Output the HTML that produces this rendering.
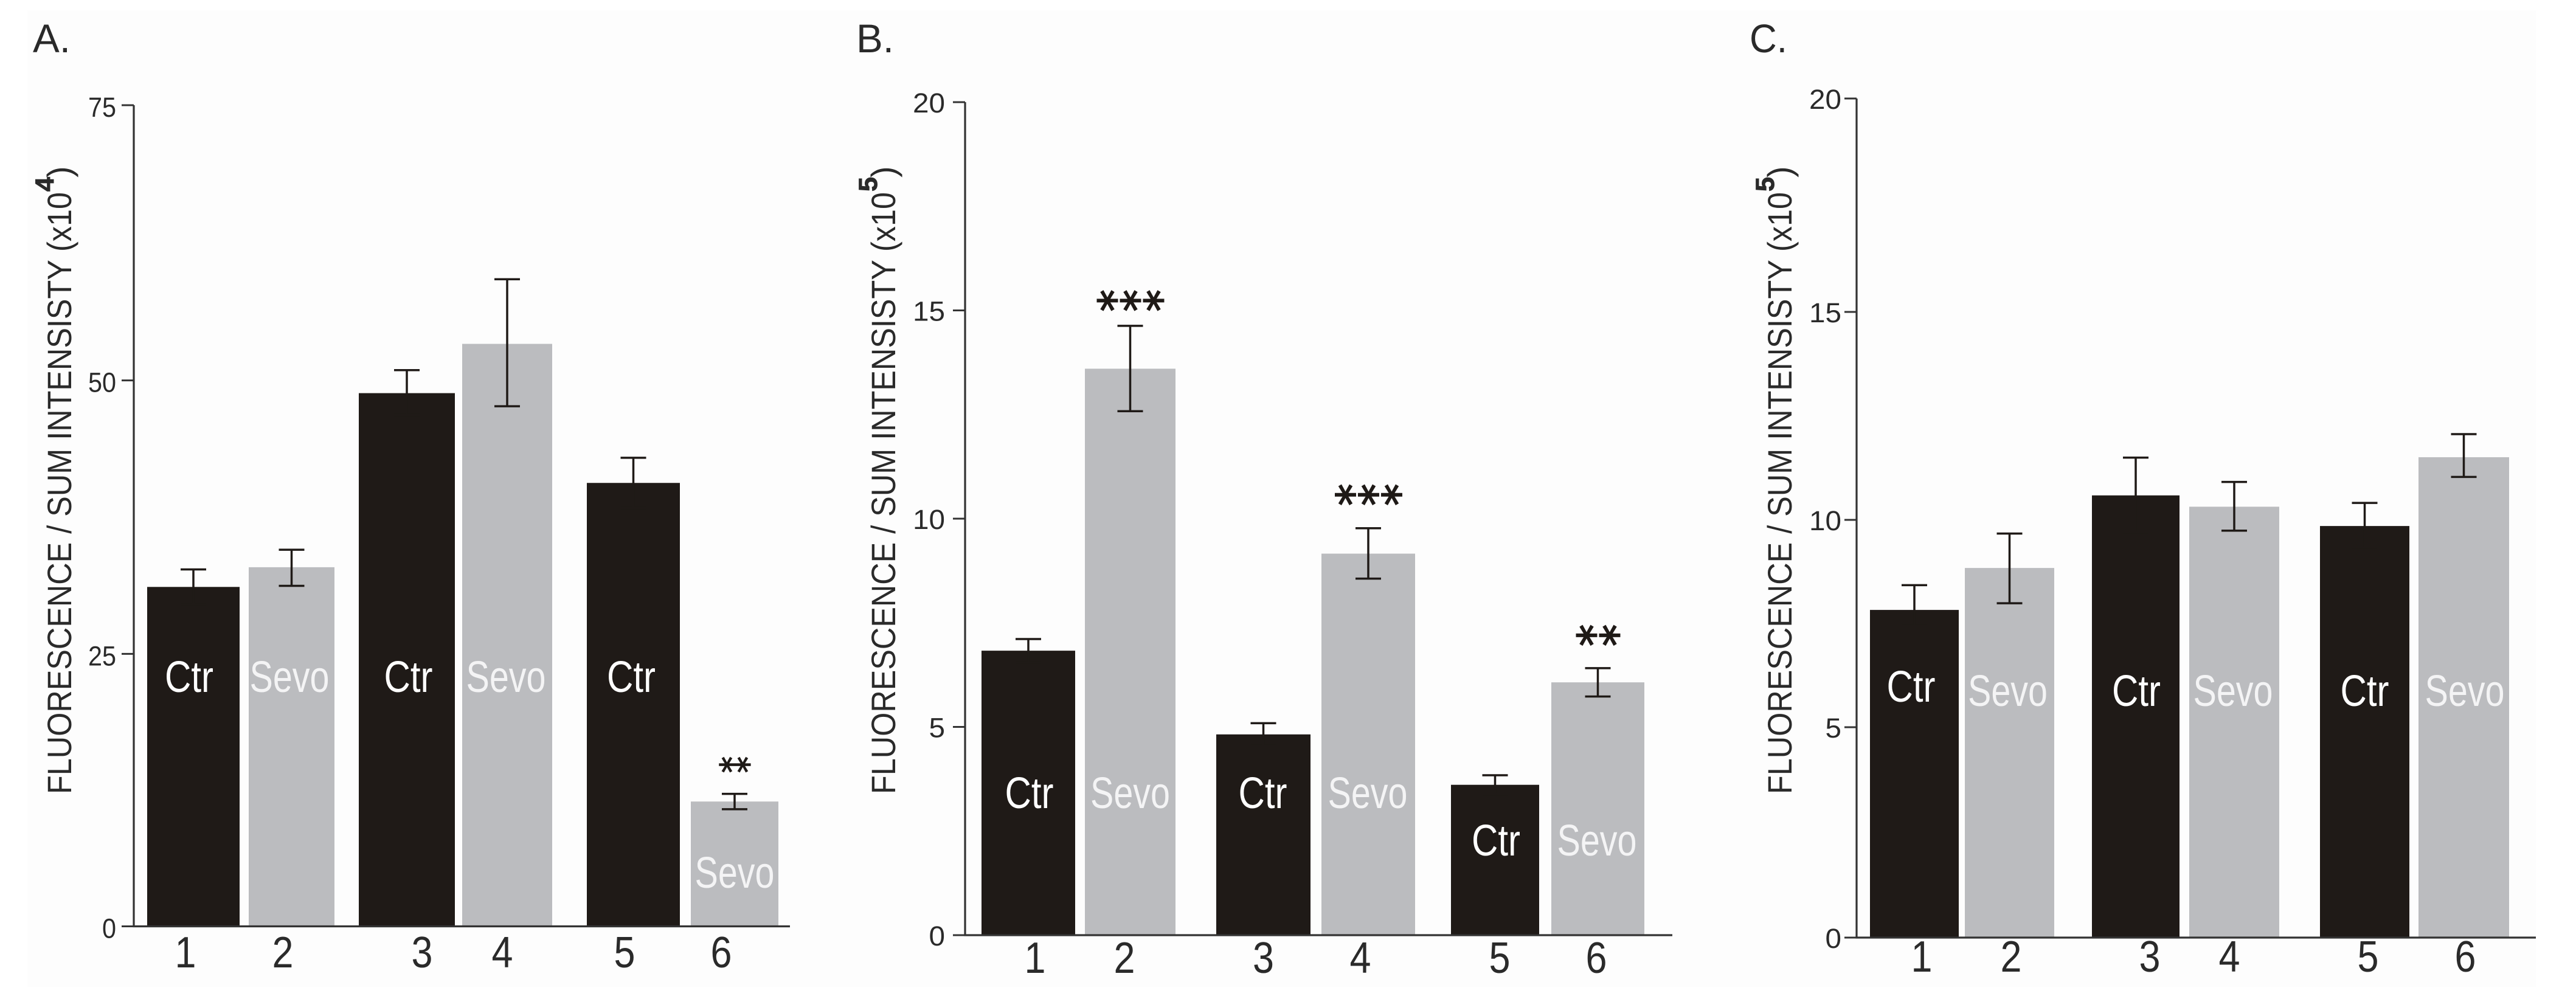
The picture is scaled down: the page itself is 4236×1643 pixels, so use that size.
<!DOCTYPE html>
<html lang="en">
<head>
<meta charset="utf-8">
<title>Fluorescence / sum intensity bar charts</title>
<style>
html,body{margin:0;padding:0;background:#fff;width:4236px;height:1643px;overflow:hidden}
svg{display:block}
text{font-family:"Liberation Sans",sans-serif;fill:#2a2a2a}
</style>
</head>
<body>
<svg id="figure" xmlns="http://www.w3.org/2000/svg" width="4236" height="1643" viewBox="0 0 4236 1643">
<rect x="45" y="17" width="4125" height="1606" fill="#fdfdfd"/>
</svg>
<script>
const categories = ['1','2','3','4','5','6'];
const groups = ['Ctr','Sevo','Ctr','Sevo','Ctr','Sevo'];

const valuesA  = [31.0, 32.8, 48.7, 53.2, 40.5, 11.4];
const errHighA = [32.6, 34.4, 50.8, 59.1, 42.8, 12.1];
const errLowA  = [29.4, 31.1, 46.7, 47.5, 38.2, 10.7];
const starsA   = ['', '', '', '', '', '**'];
const ticksA   = [0, 25, 50, 75];

const valuesB  = [6.83, 13.6, 4.82, 9.16, 3.61, 6.07];
const errHighB = [7.11, 14.63, 5.09, 9.77, 3.84, 6.41];
const errLowB  = [6.55, 12.58, 4.55, 8.56, 3.38, 5.73];
const starsB   = ['', '***', '', '***', '', '**'];
const ticksB   = [0, 5, 10, 15, 20];

const valuesC  = [7.81, 8.81, 10.54, 10.27, 9.81, 11.45];
const errHighC = [8.40, 9.63, 11.44, 10.86, 10.36, 12.00];
const errLowC  = [7.43, 7.97, 9.66, 9.70, 9.29, 10.98];
const starsC   = ['', '', '', '', '', ''];
const ticksC   = [0, 5, 10, 15, 20];

const panels = [
  {id:'a', letter:'A.', letterX:54, values:valuesA, hi:errHighA, lo:errLowA, stars:starsA, ticks:ticksA, yMax:75,
   axisX:220, axisEnd:1299, y0:1523.5, yTop:173, start:242, widths:[152,141,158,148,153,144], gaps:[15,40,12,57,18],
   tickRight:191, tickDigit:23, tickDy:19, tickShift:[0,2,2.5,0], titleX:117, supX:88, power:'4', xBase:1591,
   starSize:54, starPitch:26, starLift:[0,0,0,0,0,48], xNudge:[-13,-14.5,25,-8,-14.5,-22],
   labelNudge:[-7,-3.5,2.5,-2,-3.5,0], labelBase:[1138,1138,1138,1138,1138,1460]},
  {id:'b', letter:'B.', letterX:1408, values:valuesB, hi:errHighB, lo:errLowB, stars:starsB, ticks:ticksB, yMax:20,
   axisX:1587, axisEnd:2750, y0:1538, yTop:168, start:1614, widths:[154,149,155,154,145,153], gaps:[16,67,18,59,20],
   tickRight:1554, tickDigit:26.5, tickDy:17, tickShift:[0,0,0,0,0], titleX:1472, supX:1442, power:'5', xBase:1600,
   starSize:72, starPitch:38, starLift:[0,41.5,0,55,0,54], xNudge:[11,-9.5,0,-13,7.5,-2.5],
   labelNudge:[1.5,0,-1,-1,1.5,-1.5], labelBase:[1329,1329,1329,1329,1407,1407]},
  {id:'c', letter:'C.', letterX:2877, values:valuesC, hi:errHighC, lo:errLowC, stars:starsC, ticks:ticksC, yMax:20,
   axisX:3053, axisEnd:4170, y0:1542, yTop:162, start:3075, widths:[146,147,144,148,147,149], gaps:[10,62,16,67,15],
   tickRight:3028, tickDigit:26.5, tickDy:17, tickShift:[0,-1,3,6,0], titleX:2946, supX:2917, power:'5', xBase:1598,
   starSize:72, starPitch:38, starLift:[0,0,0,0,0,0], xNudge:[12,2.5,23,-8,5.5,2.5],
   labelNudge:[-5.5,-3,1,-2,0,1.5], labelBase:[1154,1161,1161,1161,1161,1161]}
];

const svg = document.getElementById('figure');
const NS = 'http://www.w3.org/2000/svg';
function make(tag, attrs, parent, content) {
  const node = document.createElementNS(NS, tag);
  for (const key in attrs) node.setAttribute(key, attrs[key]);
  if (content !== undefined) node.textContent = content;
  parent.appendChild(node);
  return node;
}
function fitText(length) {
  return {textLength: length, lengthAdjust: 'spacingAndGlyphs'};
}

panels.forEach(function (p) {
  const yScale = function (v) { return p.y0 - (v / p.yMax) * (p.y0 - p.yTop); };
  const barWidth = function (i) { return p.widths[i]; };
  const barLeft = function (i) {
    let x = p.start;
    for (let k = 0; k < i; k++) x += p.widths[k] + p.gaps[k];
    return x;
  };
  const barCenter = function (i) { return barLeft(i) + barWidth(i) / 2; };

  const g = make('g', {}, svg);
  
  

  const letter = make('text', Object.assign({x: p.letterX, y: 86, 'font-size': 66}, fitText(62)), g, p.letter);
  
  

  categories.forEach(function (cat, i) {
    const bar = make('rect', {
      x: barLeft(i), y: yScale(p.values[i]), width: barWidth(i),
      height: p.y0 - yScale(p.values[i]), fill: i % 2 === 0 ? '#1f1a17' : '#bbbcbf'
    }, g);
    
    

    const cx = barCenter(i);
    const yHi = yScale(p.hi[i]);
    const yLo = yScale(p.lo[i]);
    const err = make('path', {
      d: 'M' + (cx - 21) + ' ' + yHi + 'H' + (cx + 21) + 'M' + cx + ' ' + yHi + 'V' + yLo + 'M' + (cx - 21) + ' ' + yLo + 'H' + (cx + 21),
      fill: 'none', stroke: '#1f1a17', 'stroke-width': 3.5
    }, g);
    
    

    const isCtr = groups[i] === 'Ctr';
    const label = make('text', Object.assign({
      x: cx + p.labelNudge[i], y: p.labelBase[i], 'font-size': 72, 'text-anchor': 'middle', style: 'fill:' + (isCtr ? '#ffffff' : '#f4f4f5')
    }, fitText(isCtr ? 80 : 131)), g, groups[i]);
    
    

    const xTick = make('text', Object.assign({
      x: cx + p.xNudge[i], y: p.xBase, 'font-size': 72, 'text-anchor': 'middle'
    }, fitText(35)), g, cat);
    
    

    const count = p.stars[i].length;
    for (let s = 0; s < count; s++) {
      const sx = cx + (s - (count - 1) / 2) * p.starPitch;
      const sy = yHi - p.starLift[i];
      const star = make('text', {
        transform: 'translate(' + sx + ' ' + sy + ') rotate(90) translate(0 ' + (p.starSize * 0.51) + ')',
        'font-size': p.starSize, 'text-anchor': 'middle', stroke: '#1f1a17', 'stroke-width': p.starSize / 36,
        style: 'fill:#1f1a17;font-family:\'DejaVu Sans\',sans-serif'
      }, g, p.stars[i][s]);
      
      
    }
  });

  const axisLine = make('path', {
    d: 'M' + p.axisX + ' ' + p.yTop + 'V' + p.y0 + 'H' + p.axisEnd,
    fill: 'none', stroke: '#333333', 'stroke-width': 3.2
  }, g);
  
  

  p.ticks.forEach(function (t, n) {
    const yt = yScale(t) + p.tickShift[n];
    const mark = make('line', {x1: p.axisX - 20, x2: p.axisX, y1: yt, y2: yt, stroke: '#333333', 'stroke-width': 3}, g);
    
    
    const s = String(t);
    const tickLabel = make('text', Object.assign({
      x: p.tickRight, y: yt + p.tickDy, 'font-size': 45, 'text-anchor': 'end'
    }, fitText(s.length * p.tickDigit)), g, s);
    
    
  });

  const title = make('text', Object.assign({
    transform: 'translate(' + p.titleX + ' 1306) rotate(-90)', 'font-size': 56
  }, fitText(990)), g, 'FLUORESCENCE / SUM INTENSISTY (x10');
  
  

  const sup = make('text', {
    transform: 'translate(' + p.supX + ' 315) rotate(-90)', 'font-size': 43, 'font-weight': 'bold',
    stroke: '#2a2a2a', 'stroke-width': 1
  }, g, p.power);
  
  

  const close = make('text', {
    transform: 'translate(' + p.titleX + ' 292) rotate(-90)', 'font-size': 56
  }, g, ')');
  
  
});
</script>
</body>
</html>
